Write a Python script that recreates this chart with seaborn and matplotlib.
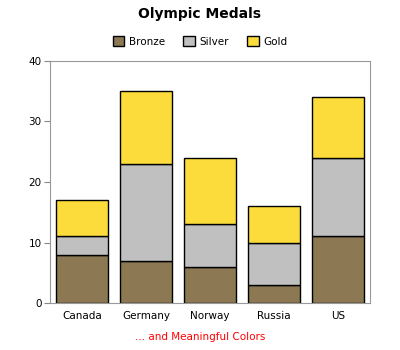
import matplotlib
matplotlib.use("Agg")
import matplotlib.pyplot as plt
import seaborn as sns
import pandas as pd
import numpy as np
from matplotlib.patches import Patch

countries = ["Canada", "Germany", "Norway", "Russia", "US"]
bronze = [8, 7, 6, 3, 11]
silver = [3, 16, 7, 7, 13]
gold = [6, 12, 11, 6, 10]
medal_names = ["Bronze", "Silver", "Gold"]
colors = {"Bronze": "#8C7853", "Silver": "#C0C0C0", "Gold": "#FCDC3B"}

sns.set_style("white")
plt.rcParams["font.family"] = ["DejaVu Sans"]
plt.rcParams["text.color"] = "black"
plt.rcParams["xtick.color"] = "black"
plt.rcParams["ytick.color"] = "black"

fig = plt.figure(figsize=(4, 3.5), dpi=100)
ax = fig.add_axes([0.125, 0.134, 0.8, 0.692])

df = pd.DataFrame({"country": countries, "Bronze": bronze, "Silver": silver, "Gold": gold})
bottom = np.zeros(len(countries))
for m in medal_names:
    sns.barplot(data=df, x="country", y=m, ax=ax, color=colors[m], bottom=bottom,
                width=0.8, edgecolor="black", linewidth=1, saturation=1)
    bottom = bottom + df[m].values

ax.set_ylim(0, 40)
ax.set_yticks([0, 10, 20, 30, 40])
ax.set_xlabel("")
ax.set_ylabel("")
ax.tick_params(axis="y", length=4, width=0.8, color="#888888", labelcolor="black", labelsize=7.5, pad=2, left=True)
ax.tick_params(axis="x", length=0, labelcolor="black", labelsize=7.5, pad=6)
for s in ax.spines.values():
    s.set_color("#999999")
    s.set_linewidth(0.8)
    s.set_visible(True)

fig.text(0.5, 0.96, "Olympic Medals", ha="center", va="center", fontsize=10, fontweight="bold", color="black")
handles = [Patch(facecolor=colors[m], edgecolor="black", label=m) for m in medal_names]
fig.legend(handles=handles, loc="center", bbox_to_anchor=(0.5, 0.882), ncol=3, frameon=False,
           fontsize=7.5, handlelength=1.1, handleheight=1.1, handletextpad=0.4, columnspacing=1.8,
           labelcolor="black")
fig.text(0.5, 0.037, "... and Meaningful Colors", ha="center", va="center", fontsize=7.5, color="red")

fig.savefig("out.png", dpi=100)
